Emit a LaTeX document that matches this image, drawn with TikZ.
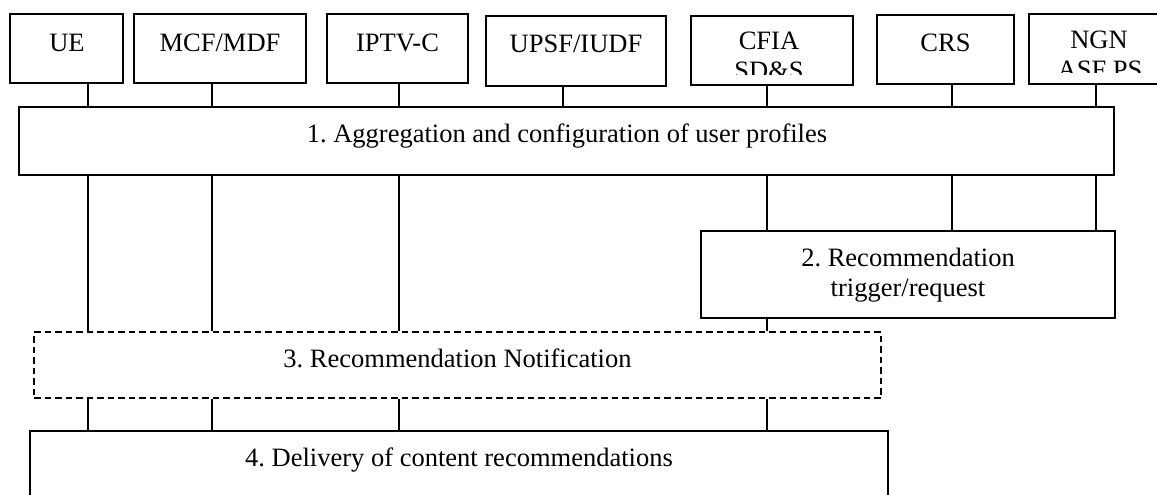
\documentclass[tikz,border=0pt]{standalone}
\usepackage{fontspec}
\setmainfont{Liberation Serif}
\frenchspacing
\begin{document}
\begin{tikzpicture}[x=1pt,y=-1pt,
  box/.style={draw,line width=1.5pt,rectangle,inner sep=0pt},
  dbox/.style={draw,line width=1.3pt,rectangle,inner sep=0pt,dash pattern=on 6.5pt off 4pt},
  lbl/.style={anchor=base,inner sep=0pt,font=\fontsize{26.5}{29.5}\selectfont},
  conn/.style={line width=1.3pt}]
\useasboundingbox (0,0) rectangle (1157,495);
\clip (0,0) rectangle (1157,495);
% top boxes
\node[box,minimum width=113pt,minimum height=69pt] (ue) at (66.5,48.5) {};
\node[box,minimum width=172pt,minimum height=69pt] (mcf) at (220,48.5) {};
\node[box,minimum width=141pt,minimum height=69pt] (iptv) at (397.5,48.5) {};
\node[box,minimum width=180pt,minimum height=70pt] (upsf) at (576,51) {};
\node[box,minimum width=162pt,minimum height=69pt] (cfia) at (772,50.5) {};
\node[box,minimum width=137pt,minimum height=69pt] (crs) at (945.5,49.5) {};
\node[box,minimum width=142pt,minimum height=70pt] (ngn) at (1100,49) {};
% step boxes
\node[box,minimum width=1095pt,minimum height=68pt] (b1) at (566.5,141) {};
\node[box,minimum width=414pt,minimum height=87pt] (b2) at (908,274.5) {};
\node[dbox,minimum width=847pt,minimum height=66pt] (b3) at (457.5,365) {};
\node[box,minimum width=858pt,minimum height=89pt] (b4) at (459,475.5) {};
% labels
\node[lbl] (tue) at (67,52) {UE};
\node[lbl] (tmcf) at (220,52) {MCF/MDF};
\node[lbl] (tiptv) at (397.5,52) {IPTV-C};
\node[lbl] (tupsf) at (576,53) {UPSF/IUDF};
\node[lbl] (tcrs) at (945.5,52) {CRS};
\begin{scope}
\clip (691,16) rectangle (853,75);
\node[lbl] (tcfiaa) at (769,50) {CFIA};
\node[lbl] (tcfiab) at (769,79.5) {SD\&S};
\end{scope}
\begin{scope}
\clip (1029,14) rectangle (1171,73);
\node[lbl] (tngna) at (1099,48.5) {NGN};
\node[lbl] (tngnb) at (1100,78) {ASF PS};
\end{scope}
\node[lbl] (t1) at (567,142) {1. Aggregation and configuration of user profiles};
\node[lbl] (t2a) at (908,266) {2. Recommendation};
\node[lbl] (t2b) at (908,296) {trigger/request};
\node[lbl] (t3) at (457.5,367) {3. Recommendation Notification};
\node[lbl] (t4) at (459,466) {4. Delivery of content recommendations};
% connectors
\foreach \x/\n in {88/ue,212/mcf,399/iptv,563/upsf,767/cfia,952/crs,1096/ngn}
  \draw[conn] (\x,0 |- \n.south) -- (\x,0 |- b1.north);
\foreach \x in {88,212,399}
  \draw[conn] (\x,0 |- b1.south) -- (\x,0 |- b3.north);
\foreach \x in {767,952,1096}
  \draw[conn] (\x,0 |- b1.south) -- (\x,0 |- b2.north);
\draw[conn] (767,0 |- b2.south) -- (767,0 |- b3.north);
\foreach \x in {88,212,399,767}
  \draw[conn] (\x,0 |- b3.south) -- (\x,0 |- b4.north);
\end{tikzpicture}
\end{document}
